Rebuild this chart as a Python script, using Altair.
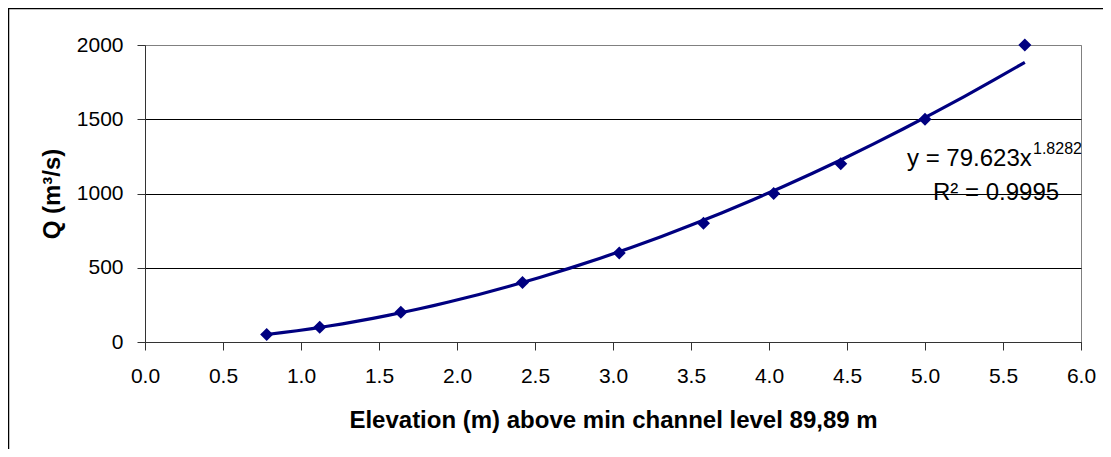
import altair as alt
import pandas as pd

# ---- data ----
elevation = [0.78, 1.12, 1.64, 2.42, 3.04, 3.58, 4.03, 4.46, 5.00, 5.64]
discharge = [50, 100, 200, 400, 600, 800, 1000, 1200, 1500, 2000]
x_ticks = [0.0, 0.5, 1.0, 1.5, 2.0, 2.5, 3.0, 3.5, 4.0, 4.5, 5.0, 5.5, 6.0]
y_ticks = [0, 500, 1000, 1500, 2000]
x_title = "Elevation (m) above min channel level 89,89 m"
y_title = "Q (m³/s)"
equation_text = ["y = 79.623x"]
exponent_text = ["1.8282"]
r2_text = ["R² = 0.9995"]

df = pd.DataFrame({"elev": elevation, "Q": discharge})

FONT = "Liberation Sans"
NAVY = "#000080"
W, H = 936, 297
PAD_L, PAD_T, PAD_R, PAD_B = 137, 37, 22, 107

xenc = alt.X(
    "elev:Q",
    scale=alt.Scale(domain=[0, 6], nice=False, zero=False),
    axis=alt.Axis(
        values=x_ticks, format=".1f", title=x_title, grid=False,
        labelFont=FONT, labelFontSize=21, labelColor="black", labelPadding=15,
        tickSize=8, tickColor="#333333", domainColor="#333333",
        titleFont=FONT, titleFontSize=24, titleFontWeight="bold", titleColor="black",
        titleY=85, titleBaseline="alphabetic", labelFlush=False,
    ),
)
yenc = alt.Y(
    "Q:Q",
    scale=alt.Scale(domain=[0, 2000], nice=False),
    axis=alt.Axis(
        values=y_ticks, format="d", title=y_title, grid=True,
        gridColor=alt.condition("datum.value == 2000", alt.value("#808080"), alt.value("black")),
        labelFont=FONT, labelFontSize=21, labelColor="black", labelPadding=14,
        tickSize=8, tickColor="#333333", domainColor="#333333",
        titleFont=FONT, titleFontSize=24, titleFontWeight="bold", titleColor="black",
        titleX=-93, titleY=H / 2, titleAngle=270, titleAlign="center", titleBaseline="middle",
        labelFlush=False,
    ),
)

trend = (
    alt.Chart(df)
    .transform_regression("elev", "Q", method="pow")
    .mark_line(color=NAVY, strokeWidth=3.2)
    .encode(x=xenc, y=yenc)
)
points = (
    alt.Chart(df)
    .mark_point(shape="diamond", filled=True, size=170, color=NAVY, opacity=1)
    .encode(x=xenc, y=yenc)
)

def label(txt, px, py, size):
    return (
        alt.Chart(pd.DataFrame({"t": txt}))
        .mark_text(font=FONT, fontSize=size, color="black", align="left", baseline="alphabetic")
        .encode(text="t:N", x=alt.value(px), y=alt.value(py))
    )

eq = label(equation_text, 762, 121, 24)
ex = label(exponent_text, 888, 109, 16)
r2 = label(r2_text, 788, 155, 24)

frame_left = alt.Chart(pd.DataFrame({"a": [0]})).mark_rule(color="black", strokeWidth=1.5).encode(
    x=alt.value(-PAD_L + 0.5), y=alt.value(-PAD_T), y2=alt.value(H + PAD_B)
)
frame_top = alt.Chart(pd.DataFrame({"a": [0]})).mark_rule(color="black", strokeWidth=1.5).encode(
    y=alt.value(-PAD_T + 0.5), x=alt.value(-PAD_L), x2=alt.value(W + PAD_R)
)

chart = (
    alt.layer(frame_left, frame_top, trend, points, eq, ex, r2)
    .properties(
        width=W, height=H,
        autosize=alt.AutoSizeParams(type="none"),
        padding={"left": PAD_L, "top": PAD_T, "right": PAD_R, "bottom": PAD_B},
        background="white",
    )
    .configure_view(stroke="#808080", strokeWidth=1)
)

chart.save("out.html", embed_options={"renderer": "svg", "actions": False})
